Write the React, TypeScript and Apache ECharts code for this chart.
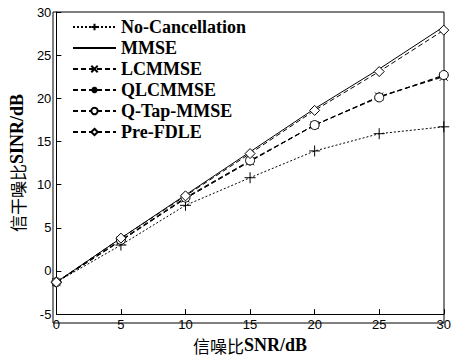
import React, { useEffect, useRef } from "react";
import * as echarts from "echarts";

const snr = [0, 5, 10, 15, 20, 25, 30];
const noCancel = [-1.3, 3.0, 7.6, 10.8, 13.9, 15.9, 16.7];
const mmse = [-1.3, 3.8, 8.8, 13.8, 18.8, 23.4, 28.3];
const lcmmse = [-1.3, 3.5, 8.4, 12.7, 16.9, 20.2, 22.5];
const qlcmmse = [-1.3, 3.5, 8.4, 12.7, 16.9, 20.2, 22.6];
const qtap = [-1.3, 3.6, 8.5, 12.8, 16.9, 20.1, 22.7];
const preFdle = [-1.3, 3.8, 8.7, 13.6, 18.6, 23.1, 27.9];
const legendNames = ["No-Cancellation", "MMSE", "LCMMSE", "QLCMMSE", "Q-Tap-MMSE", "Pre-FDLE"];

const plusPath = "path://M0,5L10,5M5,0L5,10";
const xPath = "path://M1,1L9,9M9,1L1,9";
const starPath = "path://M0,5L10,5M5,0L5,10M1.5,1.5L8.5,8.5M8.5,1.5L1.5,8.5";

export default function App() {
  const ref = useRef<HTMLDivElement>(null);
  useEffect(() => {
    document.body.style.margin = "0";
    document.body.style.overflow = "hidden";
    const chart = echarts.init(ref.current!, undefined, { renderer: "svg" });
    const serif = "'Liberation Serif', 'Times New Roman', serif";
    const cjk = "'Noto Sans CJK SC', sans-serif";
    const sans = "'Liberation Sans', Arial, sans-serif";
    const nameRich = {
      c: { fontFamily: cjk, fontWeight: "normal", fontSize: 17, color: "#000" },
      e: { fontFamily: serif, fontWeight: "bold", fontSize: 18, color: "#000" },
    };
    const mk = (name: string, data: number[], type: any, symbol: string, size: number, fill: string) => ({
      name,
      type: "line",
      data: snr.map((x, i) => [x, data[i]]),
      symbol,
      symbolSize: size,
      showSymbol: symbol !== "none",
      lineStyle: { color: "#000", width: 1, type },
      itemStyle: { color: fill, borderColor: "#000", borderWidth: 1 },
      emphasis: { disabled: true },
    });
    chart.setOption({
      animation: false,
      backgroundColor: "#fff",
      grid: { left: 53, right: 10, top: 12, bottom: 36 },
      legend: {
        orient: "vertical",
        left: 67,
        top: 13,
        itemWidth: 43,
        itemHeight: 8,
        itemGap: 3,
        textStyle: { fontFamily: serif, fontWeight: "bold", fontSize: 18, color: "#000", lineHeight: 18 },
        data: legendNames.map((n) =>
          n === "MMSE" ? { name: n, itemStyle: { opacity: 0 } } : { name: n }
        ),
      },
      xAxis: {
        type: "value",
        min: 0,
        max: 30,
        interval: 5,
        name: "{c|信噪比}{e|SNR/dB}",
        nameLocation: "middle",
        nameGap: 17,
        nameTextStyle: { rich: nameRich },
        axisLine: { onZero: false, lineStyle: { color: "#000", width: 1 } },
        axisTick: { inside: true, length: 5, lineStyle: { color: "#000" } },
        axisLabel: { fontFamily: sans, fontSize: 13, color: "#000", margin: 4 },
        splitLine: { show: false },
      },
      yAxis: {
        type: "value",
        min: -5,
        max: 30,
        interval: 5,
        name: "{c|信干噪比}{e|SINR/dB}",
        nameLocation: "middle",
        nameGap: 25,
        nameTextStyle: { rich: nameRich },
        axisLine: { show: true, lineStyle: { color: "#000", width: 1 } },
        axisTick: { inside: true, length: 5, lineStyle: { color: "#000" } },
        axisLabel: { fontFamily: sans, fontSize: 13, color: "#000", margin: 5 },
        splitLine: { show: false },
      },
      graphic: [
        {
          type: "rect",
          shape: { x: 53, y: 12, width: 391, height: 311 },
          style: { fill: "none", stroke: "#000", lineWidth: 1 },
          silent: true,
        },
      ],
      series: [
        mk("No-Cancellation", noCancel, [2, 2], plusPath, 11, "none"),
        mk("MMSE", mmse, "solid", "none", 0, "none"),
        mk("LCMMSE", lcmmse, [5, 3], xPath, 8, "none"),
        mk("QLCMMSE", qlcmmse, [5, 3], starPath, 9, "none"),
        mk("Q-Tap-MMSE", qtap, [5, 3], "circle", 9, "#fff"),
        mk("Pre-FDLE", preFdle, [5, 3], "diamond", 10, "#fff"),
      ],
    });
    return () => chart.dispose();
  }, []);
  return <div ref={ref} style={{ width: 454, height: 359 }} />;
}
